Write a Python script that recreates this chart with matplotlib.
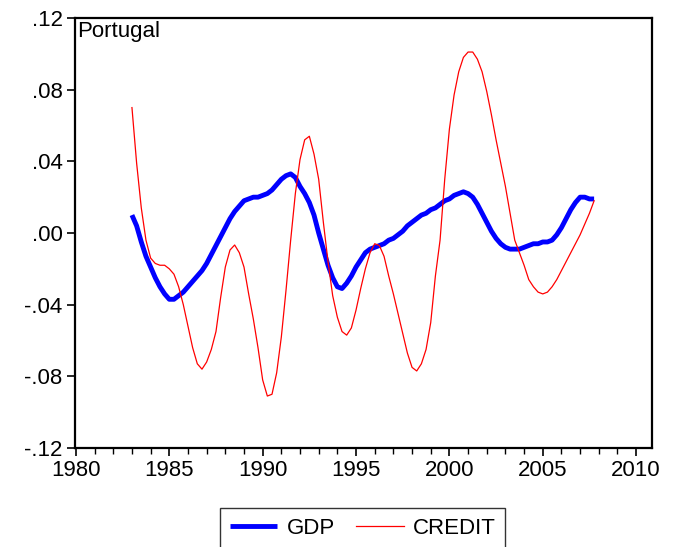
import numpy as np
import matplotlib
matplotlib.use("Agg")
import matplotlib.pyplot as plt
from matplotlib.ticker import MultipleLocator, FuncFormatter

plt.rcParams['font.family'] = ['Liberation Sans', 'DejaVu Sans']

start_year = 1983.0
gdp = [
    0.010, 0.004, -0.005, -0.013,   # 1983
    -0.019, -0.025, -0.030, -0.034,  # 1984
    -0.037, -0.037, -0.035, -0.033,  # 1985
    -0.030, -0.027, -0.024, -0.021,  # 1986
    -0.017, -0.012, -0.007, -0.002,  # 1987
    0.003, 0.008, 0.012, 0.015,      # 1988
    0.018, 0.019, 0.020, 0.020,      # 1989
    0.021, 0.022, 0.024, 0.027,      # 1990
    0.030, 0.032, 0.033, 0.031,      # 1991
    0.026, 0.022, 0.017, 0.010,      # 1992
    0.000, -0.009, -0.018, -0.025,   # 1993
    -0.030, -0.031, -0.028, -0.024,  # 1994
    -0.019, -0.015, -0.011, -0.009,  # 1995
    -0.008, -0.007, -0.006, -0.004,  # 1996
    -0.003, -0.001, 0.001, 0.004,    # 1997
    0.006, 0.008, 0.010, 0.011,      # 1998
    0.013, 0.014, 0.016, 0.018,      # 1999
    0.019, 0.021, 0.022, 0.023,      # 2000
    0.022, 0.020, 0.016, 0.011,      # 2001
    0.006, 0.001, -0.003, -0.006,    # 2002
    -0.008, -0.009, -0.009, -0.009,  # 2003
    -0.008, -0.007, -0.006, -0.006,  # 2004
    -0.005, -0.005, -0.004, -0.001,  # 2005
    0.003, 0.008, 0.013, 0.017,      # 2006
    0.020, 0.020, 0.019, 0.019,      # 2007
]
credit = [
    0.070, 0.039, 0.014, -0.004,     # 1983
    -0.014, -0.017, -0.018, -0.018,  # 1984
    -0.020, -0.023, -0.030, -0.040,  # 1985
    -0.052, -0.064, -0.073, -0.076,  # 1986
    -0.072, -0.065, -0.055, -0.036,  # 1987
    -0.019, -0.0095, -0.0067, -0.011,  # 1988
    -0.019, -0.034, -0.048, -0.064,  # 1989
    -0.082, -0.091, -0.090, -0.078,  # 1990
    -0.058, -0.032, -0.004, 0.022,   # 1991
    0.041, 0.052, 0.054, 0.044,      # 1992
    0.030, 0.006, -0.016, -0.035,    # 1993
    -0.047, -0.055, -0.057, -0.053,  # 1994
    -0.043, -0.031, -0.020, -0.011,  # 1995
    -0.006, -0.007, -0.013, -0.024,  # 1996
    -0.034, -0.045, -0.056, -0.067,  # 1997
    -0.075, -0.077, -0.073, -0.065,  # 1998
    -0.050, -0.024, -0.004, 0.030,   # 1999
    0.058, 0.077, 0.090, 0.098,      # 2000
    0.101, 0.101, 0.097, 0.090,      # 2001
    0.079, 0.066, 0.052, 0.039,      # 2002
    0.026, 0.011, -0.004, -0.011,    # 2003
    -0.018, -0.026, -0.030, -0.033,  # 2004
    -0.034, -0.033, -0.030, -0.026,  # 2005
    -0.021, -0.016, -0.011, -0.006,  # 2006
    -0.001, 0.005, 0.011, 0.018,     # 2007
]
series_names = ["GDP", "CREDIT"]
title_text = "Portugal"
x_ticks = [1980, 1985, 1990, 1995, 2000, 2005, 2010]
y_ticks = [-0.12, -0.08, -0.04, 0.00, 0.04, 0.08, 0.12]

years = start_year + np.arange(len(gdp)) * 0.25

fig = plt.figure(figsize=(6.75, 5.47), dpi=100)
ax = fig.add_axes([75/675, 1-448/547, (652-75)/675, (448-18)/547])

ax.plot(years, gdp, color='#0000ff', lw=3.5, label=series_names[0], solid_capstyle='butt')
ax.plot(years, credit, color='#ff0000', lw=0.9, label=series_names[1])

ax.set_xlim(1979.95, 2010.85)
ax.set_ylim(-0.12, 0.12)
ax.set_xticks(x_ticks)
ax.xaxis.set_minor_locator(MultipleLocator(1))
ax.set_yticks(y_ticks)

def yfmt(v, pos):
    s = f"{v:.2f}"
    if s.startswith("-0"):
        s = "-" + s[2:]
    elif s.startswith("0"):
        s = s[1:]
    return s
ax.yaxis.set_major_formatter(FuncFormatter(yfmt))

ax.tick_params(axis='both', which='major', direction='out', length=6, width=1.2,
               labelsize=16, top=False, right=False, pad=3)
ax.tick_params(axis='x', which='minor', direction='out', length=4, width=1.0)
ax.tick_params(axis='y', which='minor', left=False)
for sp in ax.spines.values():
    sp.set_linewidth(1.6)

ax.text(0.003, 0.993, title_text, transform=ax.transAxes, ha='left', va='top', fontsize=16)

leg = fig.legend(loc='upper center', bbox_to_anchor=(362.5/675, 1-508/547), ncol=2,
                 fontsize=16, frameon=True, fancybox=False, edgecolor='black',
                 handlelength=2.15, handletextpad=0.4, columnspacing=0.95,
                 borderpad=0.45, borderaxespad=0)
leg.get_frame().set_linewidth(1.0)

fig.savefig("out.png", dpi=100)
